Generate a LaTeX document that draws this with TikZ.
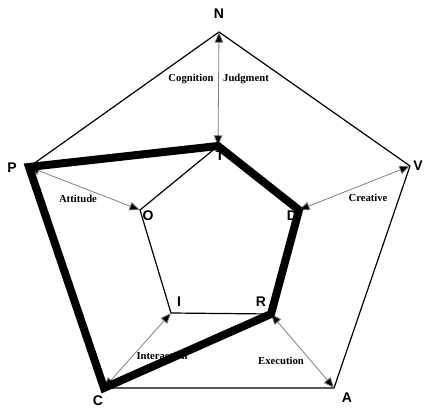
\documentclass[tikz,border=0pt]{standalone}
\usepackage{fontspec}
\setmainfont{Liberation Serif}
\newfontfamily\lsans{Liberation Sans}
\usetikzlibrary{arrows.meta}
\begin{document}
\begin{tikzpicture}[x=0.75pt,y=-0.75pt,
  vlabel/.style={font=\lsans\bfseries\fontsize{10.5}{12}\selectfont, inner sep=0pt},
  alabel/.style={font=\bfseries\fontsize{8}{9}\selectfont, inner sep=0pt},
  thinline/.style={line width=0.9pt, line join=miter},
  thickline/.style={line width=6pt, line join=miter},
  garrow/.style={draw=gray, line width=0.6pt, {Triangle[length=8pt,width=6.5pt,fill=black]}-{Triangle[length=8pt,width=6.5pt,fill=black]}}]
\useasboundingbox (0,0) rectangle (424,409);
% outer vertices
\coordinate (N) at (219,32);
\coordinate (V) at (410,166);
\coordinate (A) at (334,388);
\coordinate (C) at (104,388);
\coordinate (P) at (29,167);
% inner vertices
\coordinate (T) at (218,146);
\coordinate (D) at (299,210);
\coordinate (R) at (271,314);
\coordinate (I) at (171,313);
\coordinate (O) at (140,210);
% labels
\node[vlabel] (lN) at (219,14) {N};
\node[vlabel] (lV) at (418,166) {V};
\node[vlabel] (lA) at (347,398) {A};
\node[vlabel] (lC) at (98,401) {C};
\node[vlabel] (lP) at (12,168) {P};
\node[vlabel] (lT) at (220,156) {T};
\node[vlabel] (lD) at (292,216) {D};
\node[vlabel] (lR) at (261,302) {R};
\node[vlabel] (lI) at (179,302) {I};
\node[vlabel] (lO) at (148,216) {O};
% arrow labels
\node[alabel] (cog) at (191,79) {Cognition};
\node[alabel] (jud) at (246,79) {Judgment};
\node[alabel] (att) at (78,199) {Attitude};
\node[alabel] (cre) at (368,198) {Creative};
\node[alabel] (int) at (162,356) {Interaction};
\node[alabel] (exe) at (281,361) {Execution};
% outer pentagon
\draw[thinline] (N) -- (V) -- (A) -- (C) -- (P) -- cycle;
% inner pentagon
\draw[thinline] (T) -- (D) -- (R) -- (I) -- (O) -- cycle;
% gray double arrows
\draw[garrow] (N) -- (T);
\draw[garrow] (P) -- (O);
\draw[garrow] (V) -- (D);
\draw[garrow] (C) -- (I);
\draw[garrow] (R) -- (A);
% thick path
\draw[thickline] (P) -- (T) -- (D) -- (R) -- (C) -- cycle;
\end{tikzpicture}
\end{document}
